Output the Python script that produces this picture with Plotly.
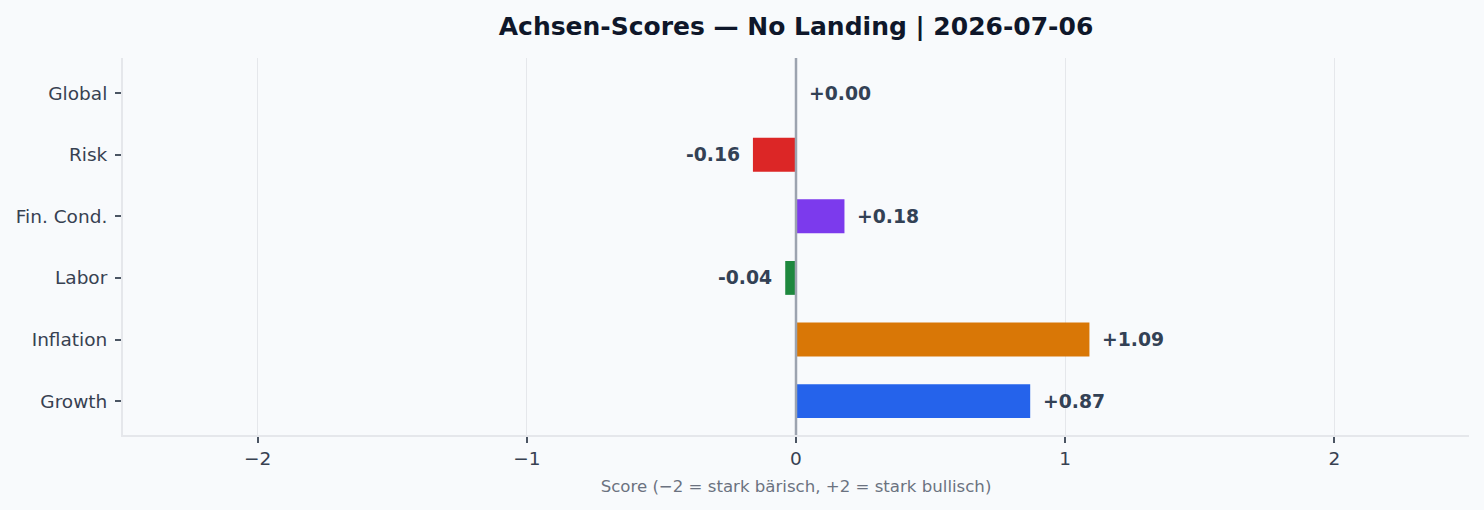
import plotly.graph_objects as go

categories = ["Growth", "Inflation", "Labor", "Fin. Cond.", "Risk", "Global"]
scores = [0.87, 1.09, -0.04, 0.18, -0.16, 0.00]
bar_colors = ["#2563eb", "#d97706", "#1e883e", "#7c3aed", "#dc2626", "#6b7280"]
x_ticks = [-2, -1, 0, 1, 2]
x_tick_labels = ["\u22122", "\u22121", "0", "1", "2"]

FONT = "DejaVu Sans"
BG = "#f8fafc"

fig = go.Figure()
fig.add_trace(go.Bar(
    y=categories, x=scores, orientation="h",
    marker=dict(color=bar_colors, line=dict(width=0)),
    width=0.55, hoverinfo="skip",
))

for c, v in zip(categories, scores):
    fig.add_annotation(
        x=v, y=c, xref="x", yref="y",
        text=f"<b>{v:+.2f}</b>",
        showarrow=False,
        xanchor="left" if v >= 0 else "right",
        xshift=11 if v >= 0 else -11,
        font=dict(family=FONT, size=18.8, color="#334155"),
    )

fig.add_shape(type="line", xref="x", yref="paper", x0=0, x1=0, y0=0, y1=1,
              line=dict(color="#9ca3af", width=2.5), layer="above")

fig.update_layout(
    width=1484, height=510,
    paper_bgcolor=BG, plot_bgcolor=BG,
    margin=dict(l=123, r=15, t=58, b=75),
    showlegend=False,
    title=dict(text="<b>Achsen-Scores \u2014 No Landing | 2026-07-06</b>",
               x=0.5, xref="paper", xanchor="center", y=1 - 26 / 510, yanchor="middle",
               font=dict(family=FONT, size=25, color="#0f172a")),
    font=dict(family=FONT, color="#374151"),
)
fig.update_xaxes(
    range=[-2.5, 2.5], tickvals=x_ticks, ticktext=x_tick_labels,
    showgrid=True, gridcolor="#e5e7eb", gridwidth=1, zeroline=False,
    showline=True, linecolor="#e5e7eb", linewidth=2, mirror=False,
    ticks="outside", ticklen=6, tickcolor="#4b5563", tickwidth=1.5,
    tickfont=dict(family=FONT, size=18.5, color="#374151"),
    title=dict(text="Score (\u22122 = stark b\u00e4risch, +2 = stark bullisch)",
               font=dict(family=FONT, size=16.6, color="#6b7280"), standoff=12),
)
fig.update_yaxes(
    range=[-0.55, 5.57], showgrid=False, zeroline=False,
    showline=True, linecolor="#e5e7eb", linewidth=2,
    ticks="outside", ticklen=6, tickcolor="#4b5563", tickwidth=1.5,
    tickfont=dict(family=FONT, size=18.5, color="#374151"),
    ticklabelstandoff=4,
)

fig.write_html("out.html")
